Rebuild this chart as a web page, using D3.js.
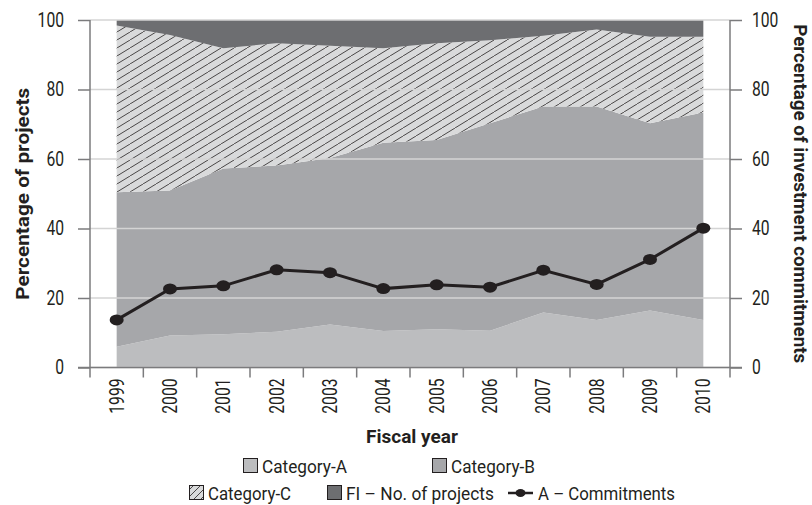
<!DOCTYPE html>
<html>
<head>
<meta charset="utf-8">
<title>Projects and commitments by fiscal year</title>
<script src="https://cdnjs.cloudflare.com/ajax/libs/d3/7.8.5/d3.min.js"></script>
<style>
  body { margin: 0; background: #fff; }
  svg { display: block; }
  text {
    font-family: Roboto, "Liberation Sans", sans-serif;
    fill: #231f20;
  }
  .tick-label { font-size: 20px; }
  .title { font-size: 19px; font-weight: bold; }
  .legend-label { font-size: 19px; }
</style>
</head>
<body>
<svg width="812" height="505"></svg>
<script>
// ---- data ----
var years = ["1999", "2000", "2001", "2002", "2003", "2004", "2005", "2006", "2007", "2008", "2009", "2010"];
var categoryA = [6.0, 9.2, 9.6, 10.3, 12.4, 10.5, 11.0, 10.6, 15.8, 13.7, 16.4, 13.7];
var categoryB = [44.4, 41.7, 47.7, 47.8, 47.9, 54.2, 54.5, 59.7, 59.3, 61.4, 53.9, 59.7];
var categoryC = [48.0, 44.8, 34.6, 35.2, 32.3, 27.2, 27.8, 23.9, 20.4, 22.2, 24.9, 21.8];
var fiProjects = [1.6, 4.3, 8.1, 6.7, 7.4, 8.1, 6.7, 5.8, 4.5, 2.7, 4.8, 4.8];
var commitments = [13.7, 22.6, 23.5, 28.1, 27.3, 22.7, 23.8, 23.1, 28.0, 23.9, 31.1, 40.1];
var yTicks = [0, 20, 40, 60, 80, 100];

var seriesKeys = ["Category-A", "Category-B", "Category-C", "FI – No. of projects"];
var seriesFill = {
  "Category-A": "#bcbdbf",
  "Category-B": "#a6a7aa",
  "Category-C": "url(#hatch)",
  "FI – No. of projects": "#6d6e71"
};

var rows = years.map(function(yr, i) {
  return {
    year: yr,
    "Category-A": categoryA[i],
    "Category-B": categoryB[i],
    "Category-C": categoryC[i],
    "FI – No. of projects": fiProjects[i],
    commit: commitments[i]
  };
});

var svg = d3.select("svg");
var plotLeft = 90, plotRight = 730, plotTop = 20, plotBottom = 367.5;

var x = d3.scaleBand().domain(years).range([plotLeft, plotRight]);
var cx = function(d) { return x(d) + x.bandwidth() / 2; };
var y = d3.scaleLinear().domain([0, 100]).range([plotBottom, plotTop]);

// hatch pattern for Category-C
var defs = svg.append("defs");
var hatch = defs.append("pattern")
    .attr("id", "hatch")
    .attr("patternUnits", "userSpaceOnUse")
    .attr("width", 13)
    .attr("height", 8);
hatch.append("rect").attr("width", 13).attr("height", 8).attr("fill", "#d9dadb");
hatch.append("path")
    .attr("d", "M-1,8.6 L14,-0.6")
    .attr("stroke", "#231f20")
    .attr("stroke-width", 0.8);

var legendHatch = defs.append("pattern")
    .attr("id", "hatch-small")
    .attr("patternUnits", "userSpaceOnUse")
    .attr("width", 7)
    .attr("height", 7);
legendHatch.append("rect").attr("width", 7).attr("height", 7).attr("fill", "#d9dadb");
legendHatch.append("path")
    .attr("d", "M-1,8 L8,-1")
    .attr("stroke", "#231f20")
    .attr("stroke-width", 0.8);

// stacked areas
var layers = d3.stack().keys(seriesKeys)(rows);

var area = d3.area()
    .x(function(d) { return cx(d.data.year); })
    .y0(function(d) { return y(d[0]); })
    .y1(function(d) { return y(d[1]); });

svg.append("g").selectAll("path")
  .data(layers)
  .enter().append("path")
    .attr("fill", function(d) { return seriesFill[d.key]; })
    .attr("d", area);

// gridlines on top of areas
svg.append("g").selectAll("line")
  .data(yTicks)
  .enter().append("line")
    .attr("x1", plotLeft).attr("x2", plotRight)
    .attr("y1", function(d) { return y(d); })
    .attr("y2", function(d) { return y(d); })
    .attr("stroke", "#d4d4d4")
    .attr("stroke-width", 1.3);

// axes
var axisColor = "#7b7b7d";

var yLeft = svg.append("g")
    .attr("transform", "translate(" + plotLeft + ",0)")
    .call(d3.axisLeft(y).tickValues(yTicks).tickSize(12).tickPadding(14));
var yRight = svg.append("g")
    .attr("transform", "translate(" + plotRight + ",0)")
    .call(d3.axisRight(y).tickValues(yTicks).tickSize(12).tickPadding(10));
var xAxis = svg.append("g")
    .attr("transform", "translate(0," + plotBottom + ")")
    .call(d3.axisBottom(x).tickSize(0).tickPadding(0));

[yLeft, yRight, xAxis].forEach(function(g) {
  g.attr("font-family", null).attr("font-size", null);
  g.select(".domain").attr("stroke", axisColor).attr("stroke-width", 1.5);
  g.selectAll(".tick line").attr("stroke", axisColor).attr("stroke-width", 1.5);
  g.selectAll(".tick text").attr("class", "tick-label").attr("fill", "#231f20")
      .attr("textLength", function(d) { return String(d).length * 8.8; })
      .attr("lengthAdjust", "spacingAndGlyphs");
});
yLeft.select(".domain").attr("d", "M0," + plotBottom + "V" + plotTop);
yRight.select(".domain").attr("d", "M0," + plotBottom + "V" + plotTop);
xAxis.select(".domain").attr("d", "M" + (plotLeft - 12) + ",0H" + (plotRight + 12));

// year labels rotated, ticks at band edges
xAxis.selectAll(".tick text")
    .attr("transform", "rotate(-90)")
    .attr("text-anchor", "end")
    .attr("x", -11)
    .attr("y", 0)
    .attr("dy", "0.35em");

svg.append("g").selectAll("line")
  .data(d3.range(years.length + 1))
  .enter().append("line")
    .attr("x1", function(i) { return plotLeft + i * x.bandwidth(); })
    .attr("x2", function(i) { return plotLeft + i * x.bandwidth(); })
    .attr("y1", plotBottom).attr("y2", plotBottom + 10)
    .attr("stroke", axisColor)
    .attr("stroke-width", 1.5);

// commitments line
var line = d3.line()
    .x(function(d) { return cx(d.year); })
    .y(function(d) { return y(d.commit); });

svg.append("path")
    .datum(rows)
    .attr("fill", "none")
    .attr("stroke", "#231f20")
    .attr("stroke-width", 3)
    .attr("d", line);

svg.append("g").selectAll("ellipse")
  .data(rows)
  .enter().append("ellipse")
    .attr("cx", function(d) { return cx(d.year); })
    .attr("cy", function(d) { return y(d.commit); })
    .attr("rx", 7)
    .attr("ry", 5.5)
    .attr("fill", "#231f20");

// axis titles
svg.append("text")
    .attr("class", "title")
    .attr("transform", "translate(29," + ((plotTop + plotBottom) / 2) + ") rotate(-90)")
    .attr("text-anchor", "middle")
    .attr("textLength", 212).attr("lengthAdjust", "spacingAndGlyphs")
    .text("Percentage of projects");

svg.append("text")
    .attr("class", "title")
    .attr("transform", "translate(794," + ((plotTop + plotBottom) / 2) + ") rotate(90)")
    .attr("text-anchor", "middle")
    .attr("textLength", 339).attr("lengthAdjust", "spacingAndGlyphs")
    .text("Percentage of investment commitments");

svg.append("text")
    .attr("class", "title")
    .attr("x", 412)
    .attr("y", 443)
    .attr("text-anchor", "middle")
    .attr("textLength", 92).attr("lengthAdjust", "spacingAndGlyphs")
    .text("Fiscal year");

// legend
var legendItems = [
  {label: "Category-A", fill: seriesFill["Category-A"], x: 243, y: 473, w: 85},
  {label: "Category-B", fill: seriesFill["Category-B"], x: 432, y: 473, w: 84},
  {label: "Category-C", fill: "url(#hatch-small)", x: 189, y: 500, w: 83},
  {label: "FI – No. of projects", fill: seriesFill["FI – No. of projects"], x: 327, y: 500, w: 148}
];

var legend = svg.append("g");
legendItems.forEach(function(d) {
  legend.append("rect")
      .attr("x", d.x + 0.5).attr("y", d.y - 14.5)
      .attr("width", 14).attr("height", 14)
      .attr("fill", d.fill)
      .attr("stroke", "#231f20")
      .attr("stroke-width", 1);
  legend.append("text")
      .attr("class", "legend-label")
      .attr("x", d.x + 19).attr("y", d.y)
      .attr("textLength", d.w).attr("lengthAdjust", "spacingAndGlyphs")
      .text(d.label);
});

legend.append("line")
    .attr("x1", 508).attr("x2", 533)
    .attr("y1", 493).attr("y2", 493)
    .attr("stroke", "#231f20").attr("stroke-width", 2.5);
legend.append("ellipse")
    .attr("cx", 520.5).attr("cy", 493)
    .attr("rx", 5).attr("ry", 4)
    .attr("fill", "#231f20");
legend.append("text")
    .attr("class", "legend-label")
    .attr("x", 538).attr("y", 500)
    .attr("textLength", 137).attr("lengthAdjust", "spacingAndGlyphs")
    .text("A – Commitments");
</script>
</body>
</html>
